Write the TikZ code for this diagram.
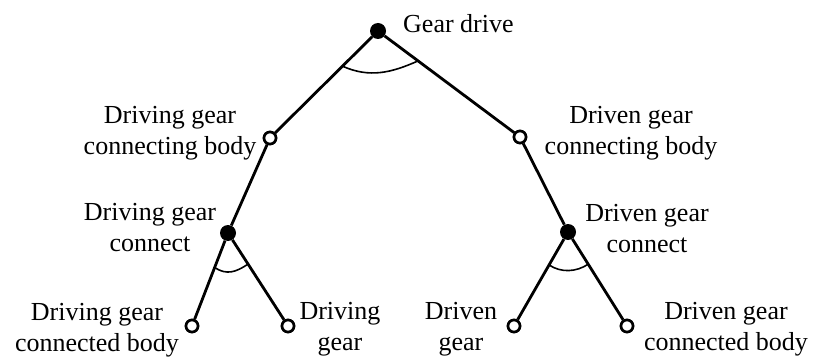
\documentclass[tikz,border=0pt]{standalone}
\usepackage{fontspec}
\setmainfont{Liberation Serif}
\usetikzlibrary{calc}
\tikzset{
  joint/.style={circle,fill=black,inner sep=0pt,minimum size=16pt},
  body/.style={circle,draw=black,fill=white,line width=2.6pt,inner sep=0pt,minimum size=12pt},
  link/.style={line width=2.8pt},
  angarc/.style={line width=1.6pt},
  lab/.style={font=\fontsize{26}{31}\selectfont,align=center,inner sep=0pt,anchor=base}
}
\begin{document}
\begin{tikzpicture}[x=1pt,y=-1pt]
\useasboundingbox (0,0) rectangle (824,358);
% nodes
\node[joint] (top) at (378,31) {};
\node[body] (l1) at (270,138) {};
\node[body] (r1) at (520,137) {};
\node[joint] (l2) at (228,233) {};
\node[joint] (r2) at (568,232) {};
\node[body] (lb1) at (192,326) {};
\node[body] (lb2) at (288,326) {};
\node[body] (rb1) at (514,326) {};
\node[body] (rb2) at (627,326) {};
% links
\draw[link] (top) -- (l1) -- (l2);
\draw[link] (top) -- (r1) -- (r2);
\draw[link] (l2) -- (lb1);
\draw[link] (l2) -- (lb2);
\draw[link] (r2) -- (rb1);
\draw[link] (r2) -- (rb2);
% redraw circles on top
\node[body] at (l1) {};
\node[body] at (r1) {};
\node[body] at (lb1) {};
\node[body] at (lb2) {};
\node[body] at (rb1) {};
\node[body] at (rb2) {};
% angle arcs
\coordinate (ta) at ($(top)!50pt!(l1)$);
\coordinate (tb) at ($(top)!50pt!(r1)$);
\draw[angarc] (ta) .. controls +(27,12) and +(-27,12) .. (tb);
\coordinate (la) at ($(l2)!37pt!(lb1)$);
\coordinate (lb) at ($(l2)!37pt!(lb2)$);
\draw[angarc] (la) .. controls +(12,8) and +(-12,8) .. (lb);
\coordinate (ra) at ($(r2)!38pt!(rb1)$);
\coordinate (rb) at ($(r2)!38pt!(rb2)$);
\draw[angarc] (ra) .. controls +(12,8) and +(-12,8) .. (rb);
% labels (anchor at baseline of last line)
\node[lab,anchor=base west] (tGD) at (403,33) {Gear drive};
\node[lab] (tA) at (170,155) {Driving gear\\connecting body};
\node[lab] (tB) at (150,251) {Driving gear\\connect};
\node[lab] (tC) at (97,351) {Driving gear\\connected body};
\node[lab] (tD) at (340,350) {Driving\\gear};
\node[lab] (tE) at (461,350) {Driven\\gear};
\node[lab] (tF) at (726,350) {Driven gear\\connected body};
\node[lab] (tG) at (647,252) {Driven gear\\connect};
\node[lab] (tH) at (631,155) {Driven gear\\connecting body};
\end{tikzpicture}
\end{document}
